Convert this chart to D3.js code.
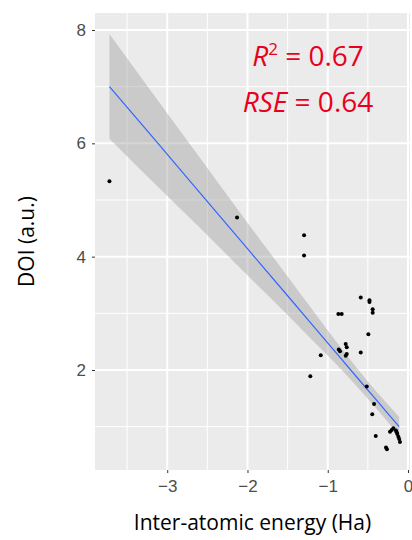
<!DOCTYPE html>
<html>
<head>
<meta charset="utf-8">
<script src="https://cdn.jsdelivr.net/npm/d3@7"></script>
<style>
  body { margin: 0; background: #fff; }
  svg { display: block; }
</style>
</head>
<body>
<div id="chart"></div>
<script>
// energy (Ha) vs DOI (a.u.)
const energy = [-3.72, -2.13, -1.295, -1.295, -1.087, -1.217, -0.589, -0.48, -0.48, -0.44,
  -0.44, -0.868, -0.826, -0.494, -0.776, -0.763, -0.863, -0.847, -0.776, -0.763,
  -0.589, -0.514, -0.423, -0.445, -0.402, -0.274, -0.262, -0.224, -0.203, -0.183,
  -0.15, -0.141, -0.133, -0.12, -0.11, -0.10];
const doi = [5.33, 4.69, 4.38, 4.02, 2.26, 1.89, 3.28, 3.23, 3.20, 3.07,
  3.01, 2.99, 2.99, 2.63, 2.46, 2.40, 2.36, 2.33, 2.25, 2.28,
  2.31, 1.71, 1.40, 1.22, 0.835, 0.63, 0.60, 0.91, 0.94, 0.97,
  0.93, 0.90, 0.87, 0.82, 0.78, 0.73];

// fitted line and its confidence band
const fitEnergy = [-3.72, -3.2, -2.6, -2.0, -1.5, -1.2, -0.9, -0.6, -0.4, -0.25, -0.11];
const fitDoi    = [7.00, 6.14, 5.14, 4.14, 3.31, 2.81, 2.31, 1.81, 1.48, 1.23, 1.00];
const bandLow   = [6.08, 5.35, 4.52, 3.67, 2.97, 2.54, 2.11, 1.65, 1.33, 1.08, 0.83];
const bandHigh  = [7.93, 6.92, 5.76, 4.60, 3.65, 3.08, 2.51, 1.97, 1.63, 1.39, 1.17];

const xTicks = [-3, -2, -1, 0];
const yTicks = [2, 4, 6, 8];
const xMinor = [-3.5, -2.5, -1.5, -0.5];
const yMinor = [1, 3, 5, 7];

const width = 412, height = 540;
const margin = { top: 13, right: 2, bottom: 70, left: 95 };
const innerW = width - margin.left - margin.right;
const innerH = height - margin.top - margin.bottom;

const svg = d3.select("#chart").append("svg")
  .attr("width", width)
  .attr("height", height);

const g = svg.append("g").attr("transform", `translate(${margin.left},${margin.top})`);

const x = d3.scaleLinear().domain([-3.9, 0.025]).range([0, innerW]);
const y = d3.scaleLinear().domain([0.235, 8.3]).range([innerH, 0]);

// panel
g.append("rect").attr("width", innerW).attr("height", innerH).attr("fill", "#ebebeb");

// grid
g.selectAll(".xminor").data(xMinor).join("line")
  .attr("x1", d => x(d)).attr("x2", d => x(d)).attr("y1", 0).attr("y2", innerH)
  .attr("stroke", "#fff").attr("stroke-width", 1);
g.selectAll(".yminor").data(yMinor).join("line")
  .attr("y1", d => y(d)).attr("y2", d => y(d)).attr("x1", 0).attr("x2", innerW)
  .attr("stroke", "#fff").attr("stroke-width", 1);
g.selectAll(".xmajor").data(xTicks).join("line")
  .attr("x1", d => x(d)).attr("x2", d => x(d)).attr("y1", 0).attr("y2", innerH)
  .attr("stroke", "#fff").attr("stroke-width", 2);
g.selectAll(".ymajor").data(yTicks).join("line")
  .attr("y1", d => y(d)).attr("y2", d => y(d)).attr("x1", 0).attr("x2", innerW)
  .attr("stroke", "#fff").attr("stroke-width", 2);

// confidence band + fit line
g.append("path").datum(fitEnergy)
  .attr("d", d3.area().x(d => x(d)).y0((d, i) => y(bandLow[i])).y1((d, i) => y(bandHigh[i]))
    .curve(d3.curveMonotoneX))
  .attr("fill", "#999999").attr("fill-opacity", 0.4);
g.append("path").datum(fitEnergy)
  .attr("d", d3.line().x(d => x(d)).y((d, i) => y(fitDoi[i])))
  .attr("fill", "none").attr("stroke", "#3366ff").attr("stroke-width", 1.2);

// points
g.selectAll("circle").data(energy).join("circle")
  .attr("cx", d => x(d)).attr("cy", (d, i) => y(doi[i]))
  .attr("r", 2).attr("fill", "#000");

// axes
const xAxis = g.append("g").attr("transform", `translate(0,${innerH})`)
  .call(d3.axisBottom(x).tickValues(xTicks).tickSize(3).tickPadding(7)
    .tickFormat(d => d === 0 ? "0" : "\u2212" + Math.abs(d)));
const yAxis = g.append("g")
  .call(d3.axisLeft(y).tickValues(yTicks).tickSize(3).tickPadding(6));
[xAxis, yAxis].forEach(a => {
  a.select(".domain").remove();
  a.selectAll(".tick line").attr("stroke", "#333");
  a.selectAll("text").attr("fill", "#4d4d4d")
    .style("font-family", "'Liberation Sans', Arial, sans-serif").style("font-size", "17px");
});

svg.append("text")
  .attr("x", margin.left + innerW / 2).attr("y", 530)
  .attr("text-anchor", "middle")
  .style("font-family", "'Open Sans', sans-serif").style("font-size", "21px")
  .text("Inter-atomic energy (Ha)");

svg.append("text")
  .attr("transform", `translate(34,${margin.top + innerH / 2}) rotate(-90)`)
  .attr("text-anchor", "middle")
  .style("font-family", "'Open Sans', sans-serif").style("font-size", "21px")
  .text("DOI (a.u.)");

// annotations
const ann = svg.append("g")
  .style("font-family", "'Open Sans', sans-serif").style("font-size", "28px")
  .attr("fill", "#e8001c");
const t1 = ann.append("text").attr("x", 308).attr("y", 66).attr("text-anchor", "middle");
t1.append("tspan").style("font-style", "italic").text("R");
t1.append("tspan").attr("dy", -11).style("font-size", "17px").text("2");
t1.append("tspan").attr("dy", 11).text(" = 0.67");
const t2 = ann.append("text").attr("x", 308).attr("y", 112).attr("text-anchor", "middle");
t2.append("tspan").style("font-style", "italic").text("RSE");
t2.append("tspan").text(" = 0.64");
</script>
</body>
</html>
